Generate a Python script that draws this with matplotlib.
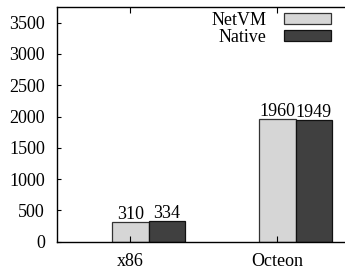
import numpy as np
import matplotlib
matplotlib.use('Agg')
import matplotlib.pyplot as plt

# datos de la figura
categorias = ['x86', 'Octeon']
netvm = [310, 1960]
native = [334, 1949]
yticks = [0, 500, 1000, 1500, 2000, 2500, 3000, 3500]

plt.rcParams['font.family'] = ['Liberation Serif', 'DejaVu Serif']
plt.rcParams['font.size'] = 13

fig = plt.figure(figsize=(3.45, 2.70), dpi=100)
ax = fig.add_axes([56.7/345, (270-241.7)/270, 294/345, (241.7-7)/270])

x = np.arange(len(categorias))
w = 0.25
b1 = ax.bar(x, netvm, w, color='#d6d6d6', edgecolor='#333333', linewidth=0.9, label='NetVM')
b2 = ax.bar(x + w, native, w, color='#404040', edgecolor='#111111', linewidth=0.9, label='Native')

# valores encima de cada barra
for rects, vals in ((b1, netvm), (b2, native)):
    for r, v in zip(rects, vals):
        ax.annotate(str(v), (r.get_x() + r.get_width()/2, r.get_height()),
                    xytext=(0, 2.2), textcoords='offset points',
                    ha='center', va='baseline', fontsize=13)

ax.set_xlim(-0.5, 1.5)
ax.set_ylim(0, 3750)
ax.set_xticks(x)
ax.set_xticklabels(categorias)
ax.set_yticks(yticks)
ax.tick_params(axis='x', direction='in', length=4, width=0.8, top=True, pad=8)
ax.tick_params(axis='y', direction='in', length=3, width=0.8, right=True, pad=8.4)
for s in ax.spines.values():
    s.set_linewidth(1.0)

ax.legend(loc='upper right', bbox_to_anchor=(330.7/345, (270-12)/270),
          bbox_transform=fig.transFigure, frameon=False, markerfirst=False,
          handlelength=2.6, handleheight=0.53, labelspacing=0.0,
          handletextpad=0.95, borderpad=0, borderaxespad=0, fontsize=13)

fig.savefig('out.png', dpi=100)
